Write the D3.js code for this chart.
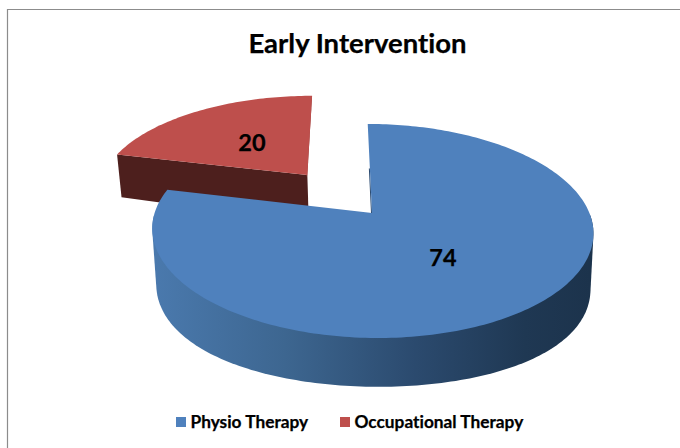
<!DOCTYPE html>
<html><head><meta charset="utf-8">
<script src="https://cdn.jsdelivr.net/npm/d3@7"></script>
<style>html,body{margin:0;padding:0;background:#fff}svg{display:block}text{font-family:Lato,"Open Sans",sans-serif;font-weight:700;fill:#000;stroke:#000;stroke-width:.25px;font-variant-ligatures:none}</style>
</head><body><svg id="c" width="680" height="448"></svg>
<script>
const categories = ["Physio Therapy", "Occupational Therapy"];
const seriesValues = [74, 20];
const chartTitle = "Early Intervention";
const explosion = [0, 0.497];
const topColors = ["#4f81bd", "#be4f4c"];

const svg = d3.select("#c");
const defs = svg.append("defs");
const grad = defs.append("linearGradient").attr("id","blueSide").attr("gradientUnits","userSpaceOnUse")
  .attr("x1",155).attr("x2",590).attr("y1",0).attr("y2",0);
[[0,"#4a79ad"],[0.3,"#3d6690"],[0.6,"#2b4a6e"],[0.85,"#1f3853"],[1,"#1c334c"]].forEach(s=>grad.append("stop").attr("offset",s[0]).attr("stop-color",s[1]));

// border
svg.append("path").attr("d","M7.5,448V9.5H680").attr("fill","none").attr("stroke","#8c8c8c").attr("stroke-width",1.2);

// perspective projection of the pie disc
const topFace = (u,v)=>{const d=1+0.168*v;return [372+(217.4*u-5*v)/d, 213-104*v/d];};
const botFace = (u,v)=>{const d=1+0.168*v,e=1+0.04*v;return [372.5+(214*u-5*v)/d, 267-115*v/e];};

const arcs = d3.pie().sort(null).value(d=>d)(seriesValues);
const line = d3.line();
const slices = arcs.map((a,i)=>{
  const mid=(a.startAngle+a.endAngle)/2, ex=explosion[i];
  const ou=ex*Math.sin(mid), ov=ex*Math.cos(mid);
  const n=Math.ceil((a.endAngle-a.startAngle)/0.02);
  const angles=d3.range(n+1).map(k=>a.startAngle+(a.endAngle-a.startAngle)*k/n);
  const rim=angles.map(t=>[ou+Math.sin(t),ov+Math.cos(t)]);
  return {i,apex:[ou,ov],rim};
});
const P=(f,p)=>f(p[0],p[1]);

// occupational slice first (behind)
const red=slices[1], blue=slices[0];
const redG=svg.append("g");
const redLeft=red.rim[0], redFar=red.rim[red.rim.length-1];
redG.append("path").attr("fill","#4d1f1d").attr("d",line([P(topFace,redLeft),P(topFace,red.apex),P(botFace,red.apex),P(botFace,redLeft)])+"Z");
redG.append("path").attr("fill","#8e3a38").attr("d",line([P(topFace,red.apex),P(topFace,redFar),[P(topFace,redFar)[0]-1,P(topFace,redFar)[1]+2],[P(topFace,red.apex)[0]-1,P(topFace,red.apex)[1]+2]])+"Z");
redG.append("path").attr("fill",topColors[1]).attr("d",line([P(topFace,red.apex),...red.rim.map(p=>P(topFace,p))])+"Z");

// physio slice: side wall is the hull of the near halves of the upper and lower rims
const blueG=svg.append("g");
const nearRim=blue.rim.filter(p=>p[1]<-0.02);
const hull=d3.polygonHull([...nearRim.map(p=>P(topFace,p)),...nearRim.map(p=>P(botFace,p))]);
blueG.append("path").attr("fill","url(#blueSide)").attr("d",line(hull)+"Z");
const ba=P(topFace,blue.apex), bs=P(topFace,blue.rim[0]);
blueG.append("path").attr("stroke","#2a4a70").attr("stroke-width",1).attr("fill","none").attr("d",line([[ba[0]-0.5,ba[1]],[(ba[0]+bs[0])/2-0.5,(ba[1]+bs[1])/2]]));
blueG.append("path").attr("fill",topColors[0]).attr("d",line([P(topFace,blue.apex),...blue.rim.map(p=>P(topFace,p))])+"Z");

// labels
const labelPos=[[443,258],[252,143]];
svg.selectAll("text.v").data(seriesValues).join("text").attr("class","v")
  .attr("x",(d,i)=>labelPos[i][0]).attr("y",(d,i)=>labelPos[i][1]).attr("dy","0.35em")
  .attr("text-anchor","middle").attr("font-size",23.5).text(d=>d);

svg.append("text").attr("x",357.5).attr("y",53).attr("text-anchor","middle").attr("font-size",27.5).text(chartTitle);

// legend
const legendX=[176,340];
const lg=svg.selectAll("g.l").data(categories).join("g").attr("class","l").attr("transform",(d,i)=>`translate(${legendX[i]},417)`);
lg.append("rect").attr("width",10).attr("height",10).attr("fill",(d,i)=>topColors[i]);
lg.append("text").attr("x",14.5).attr("y",11).attr("font-size",17.3).text(d=>d);
</script></body></html>
